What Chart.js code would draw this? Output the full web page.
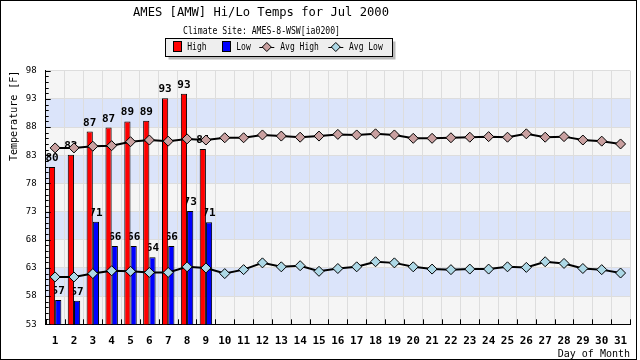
<!DOCTYPE html>
<html>
<head>
<meta charset="utf-8">
<script src="https://cdn.jsdelivr.net/npm/chart.js@4/dist/chart.umd.min.js"></script>
<style>
  html, body { margin: 0; padding: 0; background: #fff; }
  #wrap { width: 640px; height: 360px; }
</style>
</head>
<body>
<div id="wrap"><canvas id="c" width="640" height="360"></canvas></div>
<script>
// day of month
const days = ["1","2","3","4","5","6","7","8","9","10","11","12","13","14","15","16",
  "17","18","19","20","21","22","23","24","25","26","27","28","29","30","31"];

// observed (only first 9 days reported)
const highs = [80.9, 83.1, 87.2, 87.9, 89.0, 89.1, 93.1, 93.9, 84.1];
const lows  = [57.3, 57.2, 71.2, 66.9, 66.9, 64.9, 66.9, 73.1, 71.1];

// climatology
const avgHigh = [84.3, 84.3, 84.6, 84.7, 85.4, 85.7, 85.5, 85.9, 85.7, 86.1,
  86.1, 86.6, 86.4, 86.2, 86.4, 86.7, 86.6, 86.8, 86.6, 86.0, 86.0, 86.1,
  86.2, 86.3, 86.2, 86.8, 86.2, 86.3, 85.7, 85.5, 85.0];
const avgLow = [61.4, 61.4, 62.0, 62.5, 62.4, 62.2, 62.2, 63.2, 63.0, 62.0,
  62.7, 63.9, 63.2, 63.4, 62.4, 62.9, 63.2, 64.1, 63.9, 63.2, 62.8, 62.7,
  62.8, 62.8, 63.2, 63.1, 64.1, 63.8, 62.9, 62.7, 62.1];

const yTicks = [53, 58, 63, 68, 73, 78, 83, 88, 93, 98];

const MONO = '"DejaVu Sans Mono", monospace';

// alternating bands behind the plot
const bands = {
  id: "bands",
  beforeDraw(chart) {
    const { ctx, chartArea: a, scales: { y } } = chart;
    ctx.save();
    for (let i = 0; i < yTicks.length - 1; i++) {
      const y0 = y.getPixelForValue(yTicks[i]);
      const y1 = y.getPixelForValue(yTicks[i + 1]);
      ctx.fillStyle = i % 2 ? "#dbe4fa" : "#f5f5f5";
      ctx.fillRect(a.left, y1, a.right - a.left, y0 - y1);
    }
    ctx.restore();
  },
};

// numbers above the bars
const barLabels = {
  id: "barLabels",
  afterDatasetDraw(chart, args) {
    const ds = chart.data.datasets[args.index];
    if (ds.type !== "bar") return;
    const ctx = chart.ctx;
    ctx.save();
    ctx.font = "bold 11px " + MONO;
    ctx.fillStyle = "#000";
    ctx.textAlign = "center";
    ctx.textBaseline = "alphabetic";
    args.meta.data.forEach((bar, i) => {
      const v = ds.data[i];
      if (v == null) return;
      ctx.fillText(String(Math.floor(v)), bar.x, bar.y - 6);
    });
    ctx.restore();
  },
};

// titles, legend box, inward ticks, frame
const decor = {
  id: "decor",
  afterDraw(chart) {
    const { ctx, chartArea: a, scales: { x, y } } = chart;
    ctx.save();

    // inward ticks on y axis
    ctx.strokeStyle = "#000";
    ctx.lineWidth = 1;
    ctx.beginPath();
    for (let v = yTicks[0]; v <= yTicks[yTicks.length - 1]; v++) {
      const py = Math.round(y.getPixelForValue(v)) + 0.5;
      const len = (v - yTicks[0]) % 5 === 0 ? 5 : 3;
      ctx.moveTo(a.left, py);
      ctx.lineTo(a.left + len, py);
    }
    // inward ticks on x axis, at category edges
    const w = (a.right - a.left) / days.length;
    for (let k = 0; k <= days.length; k++) {
      const px = Math.round(a.left + k * w) + 0.5;
      ctx.moveTo(px, a.bottom);
      ctx.lineTo(px, a.bottom - 5);
    }
    ctx.stroke();

    // title + subtitle
    ctx.fillStyle = "#000";
    ctx.textAlign = "center";
    ctx.textBaseline = "middle";
    ctx.font = "13px " + MONO;
    ctx.fillText("AMES [AMW] Hi/Lo Temps for Jul 2000", 261, 12.5, 256);
    ctx.font = "10px " + MONO;
    ctx.fillText("Climate Site: AMES-8-WSW[ia0200]", 261.5, 31, 157);

    // legend
    const lx = 165.5, ly = 38.5, lw = 227, lh = 18;
    ctx.fillStyle = "#bbbbbb";
    ctx.fillRect(lx + 3, ly + 3, lw, lh);
    ctx.fillStyle = "#eeeeee";
    ctx.fillRect(lx, ly, lw, lh);
    ctx.strokeStyle = "#000";
    ctx.strokeRect(lx, ly, lw, lh);

    const ds = chart.data.datasets;
    const items = [
      { d: ds[0], sx: 173.5, tx: 187.3 },
      { d: ds[1], sx: 222.5, tx: 236.3 },
      { d: ds[2], sx: 259.3, tx: 280.3 },
      { d: ds[3], sx: 328.3, tx: 349 },
    ];
    const cy = 47;
    ctx.textAlign = "left";
    items.forEach((it) => {
      if (it.d.type === "bar") {
        ctx.fillStyle = it.d.backgroundColor;
        ctx.fillRect(it.sx, 41.5, 8, 10);
        ctx.strokeStyle = "#000";
        ctx.strokeRect(it.sx, 41.5, 8, 10);
      } else {
        ctx.strokeStyle = "#000";
        ctx.lineWidth = 1;
        ctx.beginPath();
        ctx.moveTo(it.sx, cy + 0.5);
        ctx.lineTo(it.sx + 15, cy + 0.5);
        ctx.stroke();
        const mx = it.sx + 7.5, r = 4.5;
        ctx.beginPath();
        ctx.moveTo(mx, cy - r);
        ctx.lineTo(mx + r, cy);
        ctx.lineTo(mx, cy + r);
        ctx.lineTo(mx - r, cy);
        ctx.closePath();
        ctx.fillStyle = it.d.pointBackgroundColor;
        ctx.fill();
        ctx.stroke();
      }
      ctx.fillStyle = "#000";
      ctx.font = "10px " + MONO;
      const t = it.d.label;
      ctx.fillText(t, it.tx, cy, ctx.measureText(t).width * 0.8);
    });

    // outer frame
    ctx.strokeStyle = "#000";
    ctx.strokeRect(0.5, 0.5, 636, 359);
    ctx.restore();
  },
};

new Chart(document.getElementById("c"), {
  type: "bar",
  data: {
    labels: days,
    datasets: [
      {
        type: "bar",
        label: "High",
        data: highs,
        backgroundColor: "#ff0000",
        borderColor: "#000",
        borderWidth: 1,
        order: 1,
      },
      {
        type: "bar",
        label: "Low",
        data: lows,
        backgroundColor: "#0000ff",
        borderColor: "#000",
        borderWidth: 1,
        order: 1,
      },
      {
        type: "line",
        label: "Avg High",
        data: avgHigh,
        borderColor: "#000",
        borderWidth: 2,
        pointStyle: "rectRot",
        pointRadius: 5,
        pointBackgroundColor: "#c9a0a0",
        pointBorderColor: "#000",
        pointBorderWidth: 1,
        order: 0,
      },
      {
        type: "line",
        label: "Avg Low",
        data: avgLow,
        borderColor: "#000",
        borderWidth: 2,
        pointStyle: "rectRot",
        pointRadius: 5,
        pointBackgroundColor: "#add8e6",
        pointBorderColor: "#000",
        pointBorderWidth: 1,
        order: 0,
      },
    ],
  },
  options: {
    responsive: false,
    animation: false,
    devicePixelRatio: 1,
    layout: { padding: { top: 70.7, right: 10, left: 0, bottom: 0 } },
    datasets: { bar: { categoryPercentage: 0.66, barPercentage: 1.0 } },
    plugins: {
      legend: { display: false },
      tooltip: { enabled: false },
    },
    scales: {
      x: {
        grid: { color: "#dddddd", offset: true, drawTicks: false },
        border: { color: "#000", width: 1 },
        ticks: {
          color: "#000",
          font: { family: MONO, size: 11, weight: "bold" },
          padding: 10,
          maxRotation: 0,
          autoSkip: false,
        },
        title: {
          display: true,
          text: "Day of Month",
          align: "end",
          color: "#000",
          font: { family: MONO, size: 10 },
          padding: { top: 3, bottom: 0 },
        },
        afterFit(s) { s.height = 35.7; },
      },
      y: {
        min: 53,
        max: 98,
        afterBuildTicks(s) { s.ticks = yTicks.map((v) => ({ value: v })); },
        grid: { color: "#dddddd", drawTicks: false },
        border: { color: "#000", width: 1 },
        ticks: {
          color: "#000",
          font: { family: MONO, size: 9 },
          padding: 9,
        },
        title: {
          display: true,
          text: "Temperature [F]",
          align: "end",
          color: "#000",
          font: { family: MONO, size: 10 },
          padding: { top: 8, bottom: 0 },
        },
        afterFit(s) { s.width = 45.7; },
      },
    },
  },
  plugins: [bands, barLabels, decor],
});
</script>
</body>
</html>
